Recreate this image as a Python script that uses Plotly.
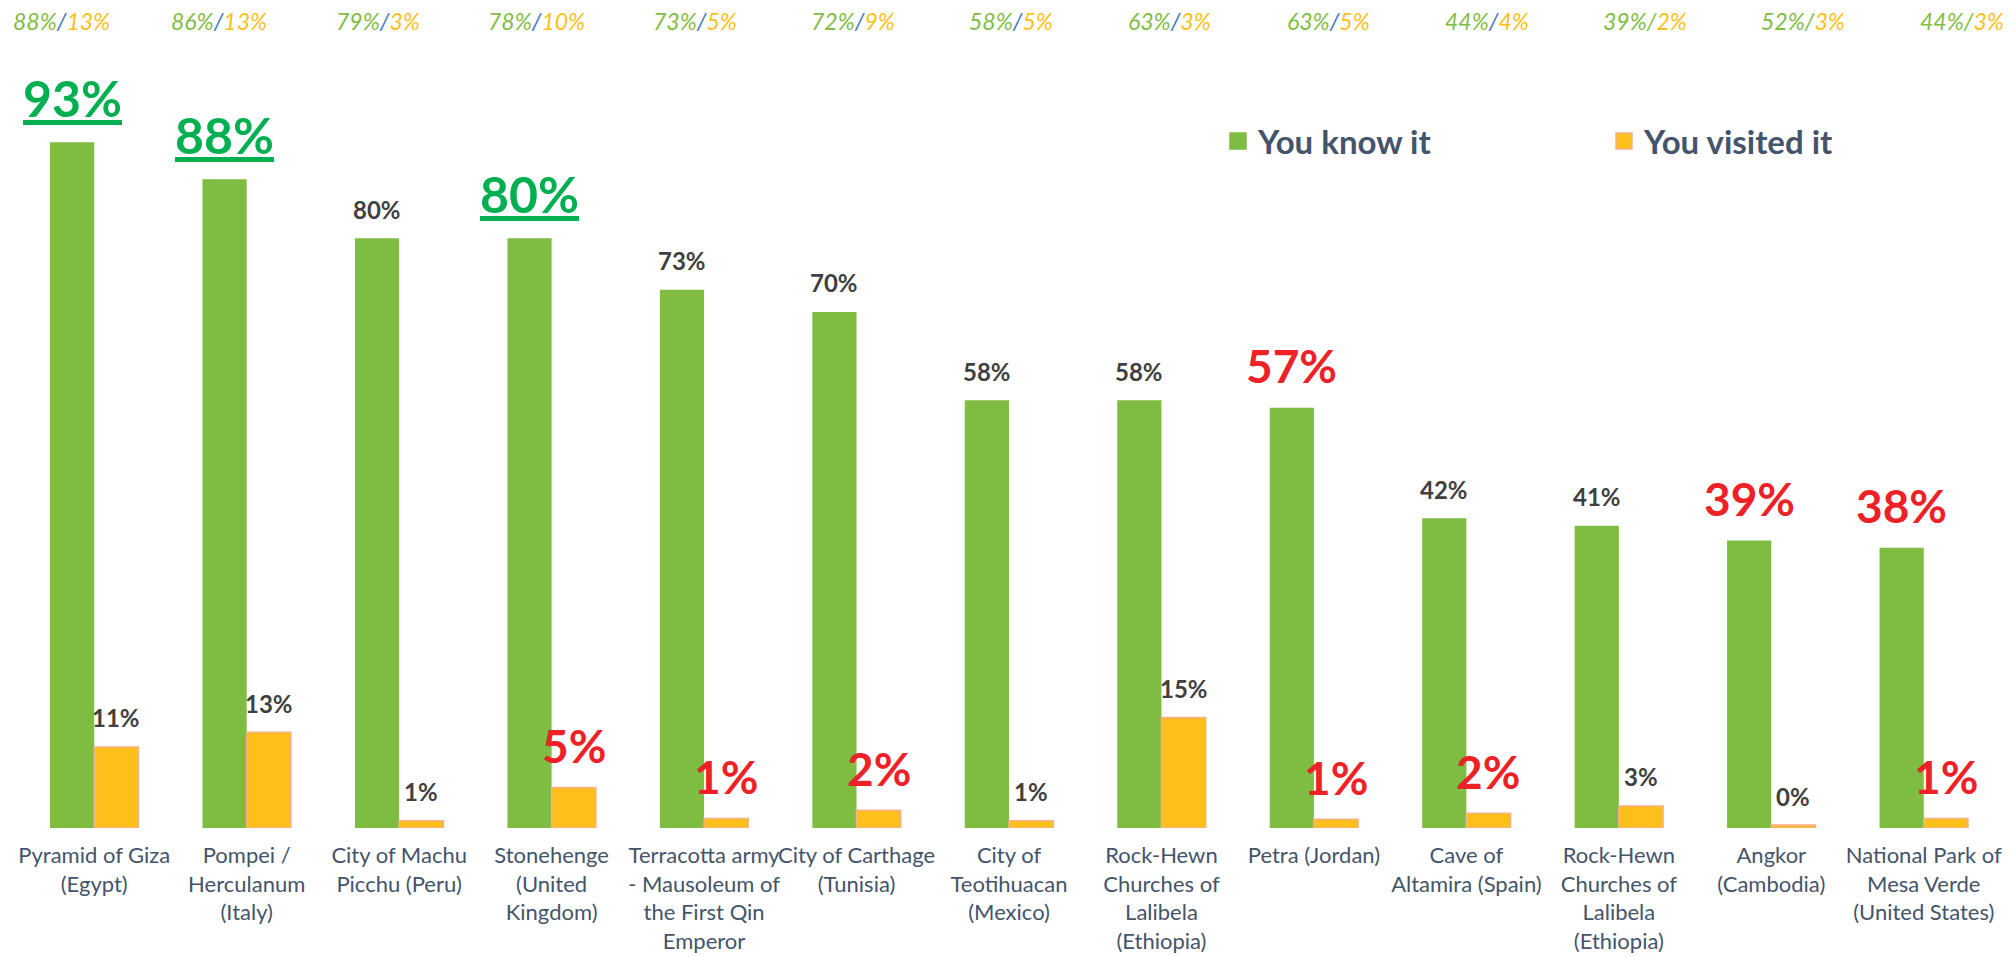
"""World heritage sites: awareness vs. visits, grouped bar chart."""

import plotly.graph_objects as go

sites = [
    "Pyramid of Giza<br>(Egypt)",
    "Pompei /<br>Herculanum<br>(Italy)",
    "City of Machu<br>Picchu (Peru)",
    "Stonehenge<br>(United<br>Kingdom)",
    "Terracotta army<br>- Mausoleum of<br>the First Qin<br>Emperor",
    "City of Carthage<br>(Tunisia)",
    "City of<br>Teotihuacan<br>(Mexico)",
    "Rock-Hewn<br>Churches of<br>Lalibela<br>(Ethiopia)",
    "Petra (Jordan)",
    "Cave of<br>Altamira (Spain)",
    "Rock-Hewn<br>Churches of<br>Lalibela<br>(Ethiopia)",
    "Angkor<br>(Cambodia)",
    "National Park of<br>Mesa Verde<br>(United States)",
]
know_pct = [93, 88, 80, 80, 73, 70, 58, 58, 57, 42, 41, 39, 38]
visited_pct = [11, 13, 1, 5, 1, 2, 1, 15, 1, 2, 3, 0, 1]
# bar heights as drawn (the 0% bar still shows a sliver)
visited_bar = [11, 13, 1, 5.5, 1.3, 2.4, 1, 15, 1.2, 2, 3, 0.4, 1.3]

# comparison figures shown along the top
other_know = [88, 86, 79, 78, 73, 72, 58, 63, 63, 44, 39, 52, 44]
other_visited = [13, 13, 3, 10, 5, 9, 5, 3, 5, 4, 2, 3, 3]

GREEN = "#7FBD42"
ORANGE = "#FDBF19"
ORANGE_EDGE = "#F6B08C"
TEXT = "#404040"
AXIS_TEXT = "#44546A"
HI_GREEN = "#00B050"
HI_RED = "#EE2226"
SLASH_BLUE = "#4472C4"
FONT = "Lato"

KNOW_TOP = {0, 1, 3}
KNOW_LOW = {8, 11, 12}
VISIT_LOW = {3, 4, 5, 8, 9, 12}
GREEN_SLASH = {10, 11, 12}

W, H = 2013, 957
M_L, M_R, M_T, M_B = 18, 13, 0, 129
BARGAP = 0.42
half = (1 - BARGAP) / 4  # offset of each bar centre from the category centre

x = list(range(len(sites)))

fig = go.Figure()
fig.add_trace(go.Bar(x=x, y=know_pct, marker={"color": GREEN, "line": {"width": 0}},
                     showlegend=False, hoverinfo="skip"))
fig.add_trace(go.Bar(x=x, y=visited_bar, marker={"color": ORANGE, "line": {"color": ORANGE_EDGE, "width": 1.5}},
                     showlegend=False, hoverinfo="skip"))

# legend entries with larger square swatches
for name, color, edge in [("You know it", GREEN, GREEN), ("You visited it", ORANGE, ORANGE_EDGE)]:
    fig.add_trace(go.Scatter(x=[None], y=[None], mode="markers", name=name,
                             marker={"symbol": "square", "size": 19, "color": color,
                                     "line": {"color": edge, "width": 1.5}}))


def bar_label(xpos, ypos, value, emph):
    if emph == "green":
        text, color, size, ys = f"<b><u>{value}%</u></b>", HI_GREEN, 50, 44
    elif emph == "red":
        text, color, size, ys = f"<b>{value}%</b>", HI_RED, 46, 42
    else:
        text, color, size, ys = f"<b>{value}%</b>", TEXT, 24, 29
    return dict(x=xpos, y=ypos, xref="x", yref="y", text=text, showarrow=False,
                yanchor="middle", yshift=ys, font={"color": color, "size": size, "family": FONT})


annotations = []
for i in x:
    emph = "green" if i in KNOW_TOP else "red" if i in KNOW_LOW else ""
    annotations.append(bar_label(i - half, know_pct[i], know_pct[i], emph))
    emph = "red" if i in VISIT_LOW else ""
    annotations.append(bar_label(i + half, visited_bar[i], visited_pct[i], emph))

plot_w = W - M_L - M_R
plot_h = H - M_T - M_B
for i in x:
    slash = GREEN if i in GREEN_SLASH else SLASH_BLUE
    annotations.append(dict(
        x=(61 + i * 158.4 - M_L) / plot_w, y=1 - (21 - M_T) / plot_h, xref="paper", yref="paper",
        showarrow=False, xanchor="center", yanchor="middle",
        text=(f"<i><span style='color:{GREEN}'>{other_know[i]}%</span>"
              f"<span style='color:{slash}'>/</span>"
              f"<span style='color:{ORANGE}'>{other_visited[i]}%</span></i>"),
        font={"size": 23, "family": FONT},
    ))

fig.update_layout(
    width=W,
    height=H,
    barmode="group",
    bargap=BARGAP,
    bargroupgap=0,
    plot_bgcolor="white",
    paper_bgcolor="white",
    margin={"l": M_L, "r": M_R, "t": M_T, "b": M_B, "autoexpand": False},
    font={"family": FONT, "color": AXIS_TEXT},
    annotations=annotations,
    showlegend=True,
    legend={
        "orientation": "h",
        "xref": "container",
        "yref": "container",
        "x": 1218 / W,
        "y": 1 - 141 / H,
        "xanchor": "left",
        "yanchor": "middle",
        "entrywidth": 341,
        "font": {"size": 33, "color": AXIS_TEXT, "family": FONT, "weight": "bold"},
        "bgcolor": "rgba(0,0,0,0)",
    },
)
fig.update_xaxes(
    tickvals=x,
    ticktext=sites,
    tickangle=0,
    range=[-0.5, len(sites) - 0.5],
    showgrid=False,
    zeroline=False,
    showline=False,
    ticks="",
    ticklabelstandoff=12,
    tickfont={"size": 22, "color": AXIS_TEXT, "family": FONT},
)
fig.update_yaxes(range=[0, 112.3], visible=False, showgrid=False)

# drop the page's default body margin so the figure sits at the window origin
fig.write_html(
    "out.html",
    config={"displayModeBar": False},
    post_script="document.body.style.margin = '0';",
)
